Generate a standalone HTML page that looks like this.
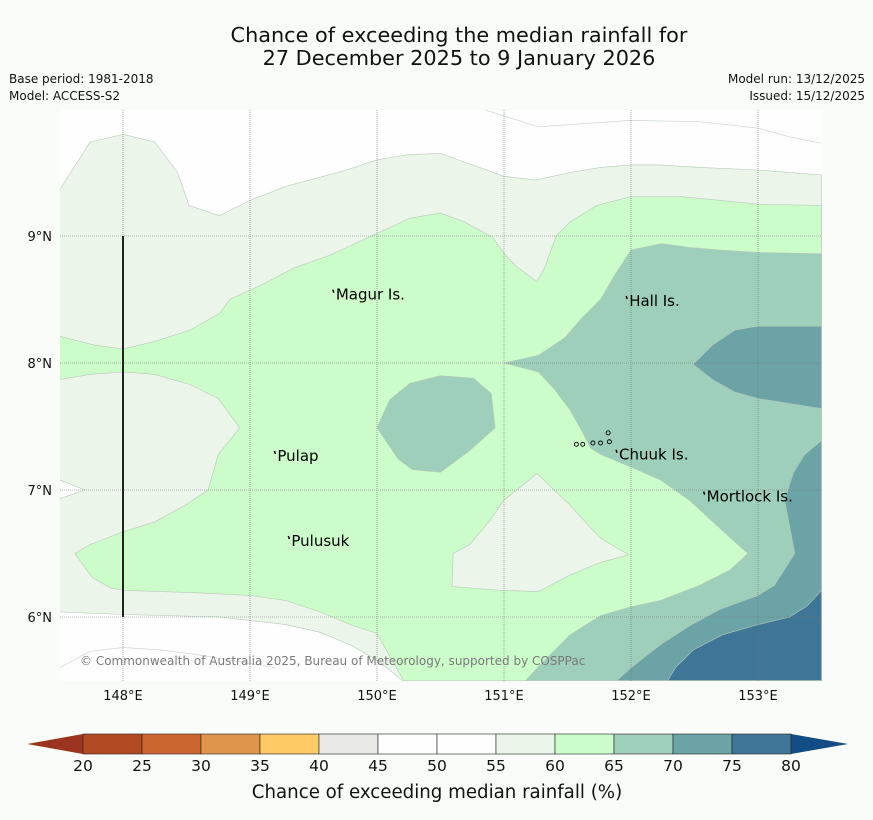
<!DOCTYPE html>
<html><head><meta charset="utf-8">
<style>
html,body{margin:0;padding:0;background:#fafcfa;}
body{width:873px;height:816px;overflow:hidden;font-family:"DejaVu Sans","Liberation Sans",sans-serif;}
svg text{font-family:"DejaVu Sans","Liberation Sans",sans-serif;}
</style></head>
<body>
<svg id="chart" width="873" height="816" viewBox="0 0 873 816">
<rect width="873" height="816" fill="#fafcfa"/>
<text x="459" y="42" font-size="20.8" text-anchor="middle" fill="#111">Chance of exceeding the median rainfall for</text>
<text x="459" y="65" font-size="20.8" text-anchor="middle" fill="#111">27 December 2025 to 9 January 2026</text>
<text x="9" y="83" font-size="12" fill="#111">Base period: 1981-2018</text>
<text x="9" y="100" font-size="12" fill="#111">Model: ACCESS-S2</text>
<text x="865" y="83" font-size="12" text-anchor="end" fill="#111">Model run: 13/12/2025</text>
<text x="865" y="100" font-size="12" text-anchor="end" fill="#111">Issued: 15/12/2025</text>
<g id="map"></g>
<g id="cbar"></g>
<text x="437" y="798" font-size="18.2" text-anchor="middle" fill="#111">Chance of exceeding median rainfall (%)</text>
</svg>
<script>
// ---- data ----
const lonTicks=[148,149,150,151,152,153];
const latTicks=[9,8,7,6];
const binEdges=[20,25,30,35,40,45,50,55,60,65,70,75,80];
const binColors=["#b24a24","#cc6631","#e0964a","#fdca65","#e9e9e5","#fdfefd","#fdfefd","#ebf5ea","#ccfcca","#9dcfba","#6ca3a7","#3f7697"];
const lowColor="#9c3520", highColor="#124d86";
// contour polygons in [lon,lat]
const c55=[[147.5,9.36],[147.74,9.74],[148,9.80],[148.25,9.74],[148.43,9.50],[148.52,9.24],[148.76,9.16],[149,9.28],[149.28,9.39],[149.54,9.46],[149.76,9.52],[150,9.60],[150.24,9.64],[150.5,9.65],[150.75,9.56],[151,9.47],[151.25,9.44],[151.52,9.50],[151.76,9.54],[152,9.56],[152.23,9.56],[152.54,9.54],[153,9.52],[153.5,9.48],[153.5,5.5],[150.2,5.5],[150,5.66],[149.79,5.78],[149.55,5.88],[149.28,5.94],[148.76,6.00],[148,6.02],[147.5,6.04],[147.5,6.93],[147.7,7.0],[147.5,7.08]];
const c60=[[147.5,8.21],[147.78,8.14],[148,8.11],[148.25,8.17],[148.53,8.26],[148.76,8.39],[148.84,8.50],[149.08,8.61],[149.35,8.75],[149.63,8.85],[150,9.02],[150.26,9.14],[150.5,9.18],[150.69,9.11],[150.91,8.99],[151.01,8.85],[151.11,8.75],[151.26,8.64],[151.32,8.75],[151.41,9.0],[151.52,9.11],[151.73,9.24],[152,9.31],[152.39,9.31],[153.02,9.25],[153.5,9.24],[153.5,5.5],[150.21,5.5],[150.12,5.66],[150,5.87],[149.79,5.94],[149.55,6.04],[149.28,6.13],[149,6.17],[148.61,6.19],[148,6.21],[147.9,6.23],[147.76,6.31],[147.62,6.50],[147.74,6.57],[148,6.67],[148.25,6.75],[148.49,6.88],[148.67,7.00],[148.75,7.28],[148.92,7.49],[148.75,7.72],[148.53,7.83],[148.25,7.91],[148,7.93],[147.74,7.91],[147.5,7.87]];
const c55hole=[[151,6.92],[151.26,7.13],[151.52,6.88],[151.76,6.62],[151.98,6.49],[151.76,6.43],[151.52,6.33],[151.27,6.20],[150.97,6.21],[150.59,6.24],[150.6,6.50],[150.73,6.57],[150.89,6.76]];
const c65=[[153.5,8.86],[153.02,8.87],[152.7,8.89],[152.46,8.91],[152.24,8.94],[152,8.89],[151.87,8.69],[151.76,8.50],[151.6,8.34],[151.48,8.20],[151.27,8.06],[151,8.0],[151.27,7.93],[151.4,7.79],[151.52,7.63],[151.61,7.47],[151.68,7.33],[151.76,7.28],[152,7.18],[152.23,7.08],[152.46,6.92],[152.72,6.68],[152.92,6.50],[152.78,6.37],[152.54,6.25],[152.23,6.13],[152,6.08],[151.76,6.01],[151.52,5.86],[151.32,5.66],[151.17,5.5],[153.5,5.5]];
const c65blob=[[150,7.49],[150.1,7.71],[150.26,7.84],[150.5,7.90],[150.76,7.88],[150.9,7.76],[150.93,7.49],[150.73,7.31],[150.5,7.14],[150.28,7.16],[150.17,7.24]];
const c70a=[[153.5,8.29],[153,8.29],[152.82,8.26],[152.64,8.14],[152.49,7.99],[152.64,7.87],[152.82,7.77],[153,7.72],[153.5,7.64]];
const c70b=[[153.5,7.39],[153.37,7.28],[153.28,7.14],[153.21,6.92],[153.29,6.50],[153.13,6.25],[153,6.17],[152.7,6.06],[152.46,5.93],[152.23,5.78],[152,5.60],[151.89,5.5],[153.5,5.5]];
const c75=[[153.5,6.21],[153.39,6.09],[153.25,6.0],[153,5.94],[152.72,5.86],[152.49,5.74],[152.35,5.60],[152.29,5.5],[153.5,5.5]];
const whiteLines=[
 [[150.86,9.99],[151.27,9.86],[152,9.91],[152.54,9.90],[153,9.85],[153.25,9.78],[153.5,9.73]],
 [[147.5,5.6],[147.74,5.73],[148,5.76],[148.3,5.74],[148.61,5.70],[148.9,5.65],[149.2,5.6]]
];
const places=[["Magur Is.",149.66,8.53],["Hall Is.",151.97,8.48],["Pulap",149.2,7.26],["Pulusuk",149.31,6.59],["Chuuk Is.",151.89,7.27],["Mortlock Is.",152.58,6.94]];
const chuukIslets=[[151.57,7.36],[151.62,7.36],[151.7,7.37],[151.76,7.37],[151.82,7.45],[151.83,7.38]];

// ---- axes ----
const X0=60,X1=822,Y0=110,Y1=681;
function X(lon){return 123+(lon-148)*127;}
function Y(lat){return 236-(lat-9)*127;}
const NS="http://www.w3.org/2000/svg";
const map=document.getElementById('map');
function mk(tag,attrs,parent){const e=document.createElementNS(NS,tag);for(const k in attrs)e.setAttribute(k,attrs[k]);parent.appendChild(e);return e;}
function pts(a){return a.map(p=>X(p[0]).toFixed(1)+","+Y(p[1]).toFixed(1)).join(" ");}
const clip=mk('clipPath',{id:'mc'},map);mk('rect',{x:X0,y:Y0,width:X1-X0,height:Y1-Y0},clip);
const g=mk('g',{'clip-path':'url(#mc)'},map);
const bg=mk('rect',{x:X0,y:Y0,width:X1-X0,height:Y1-Y0,fill:"#fdfefd"},g);


const layers=[[c55,7,'contour-55-60'],[c60,8,'contour-60-65'],[c55hole,7,'contour-55-60-south'],[c65,9,'contour-65-70-east'],[c65blob,9,'contour-65-70-central'],[c70a,10,'contour-70-75-northeast'],[c70b,10,'contour-70-75-southeast'],[c75,11,'contour-75-80']];
layers.forEach(l=>{
 const p=mk('polygon',{points:pts(l[0]),fill:binColors[l[1]],stroke:"#b8c8b8","stroke-width":0.6},g);
 
 
});
whiteLines.forEach((w,i)=>{
 const p=mk('polyline',{points:pts(w),fill:"none",stroke:"#ccd6cc","stroke-width":0.7},g);
 
 
});
lonTicks.forEach(lon=>{
 const l=mk('line',{x1:X(lon),x2:X(lon),y1:Y0,y2:Y1,stroke:"#777","stroke-width":0.6,"stroke-dasharray":"1,1"},map);
 
 
 const t=mk('text',{x:X(lon),y:700,'font-size':13,'text-anchor':'middle',fill:'#111'},map);t.textContent=lon+"°E";
 
 
});
latTicks.forEach(lat=>{
 const l=mk('line',{x1:X0,x2:X1,y1:Y(lat),y2:Y(lat),stroke:"#777","stroke-width":0.6,"stroke-dasharray":"1,1"},map);
 
 
 const t=mk('text',{x:52,y:Y(lat)+5,'font-size':13,'text-anchor':'end',fill:'#111'},map);t.textContent=lat+"°N";
 
 
});
const tr=mk('line',{x1:X(148),x2:X(148),y1:Y(9),y2:Y(6),stroke:"#222","stroke-width":2},map);


chuukIslets.forEach(c=>{
 const e=mk('circle',{cx:X(c[0]),cy:Y(c[1]),r:2,fill:'none',stroke:'#000','stroke-width':0.9},map);
 
 
});
places.forEach(p=>{
 const m=mk('line',{x1:X(p[1])-1,y1:Y(p[2])-6,x2:X(p[1]),y2:Y(p[2])-3,stroke:'#000','stroke-width':1.5},map);
 
 
 const t=mk('text',{x:X(p[1])+2,y:Y(p[2])+4,'font-size':15,fill:'#000'},map);t.textContent=p[0];
 
 
});
const cp=mk('text',{x:80,y:665,'font-size':12,fill:'#7a7a7a'},map);
cp.textContent="© Commonwealth of Australia 2025, Bureau of Meteorology, supported by COSPPac";



// ---- colorbar ----
const cb=document.getElementById('cbar');
const CBX0=83,CBX1=791,CBY=734,CBH=20;
function CX(v){return CBX0+(v-binEdges[0])/(binEdges[binEdges.length-1]-binEdges[0])*(CBX1-CBX0);}
const lt=mk('polygon',{points:`${CBX0},${CBY} ${CBX0},${CBY+CBH} 27,${CBY+CBH/2}`,fill:lowColor},cb);


const rt=mk('polygon',{points:`${CBX1},${CBY} ${CBX1},${CBY+CBH} 848,${CBY+CBH/2}`,fill:highColor},cb);


for(let i=0;i<binColors.length;i++){
 const r=mk('rect',{x:CX(binEdges[i]),y:CBY,width:CX(binEdges[i+1])-CX(binEdges[i]),height:CBH,fill:binColors[i],stroke:'#222','stroke-width':0.6},cb);
 
 
}
binEdges.forEach(v=>{
 const t=mk('text',{x:CX(v),y:771,'font-size':15.5,'text-anchor':'middle',fill:'#111'},cb);t.textContent=v;
 
 
});
</script>
</body></html>
